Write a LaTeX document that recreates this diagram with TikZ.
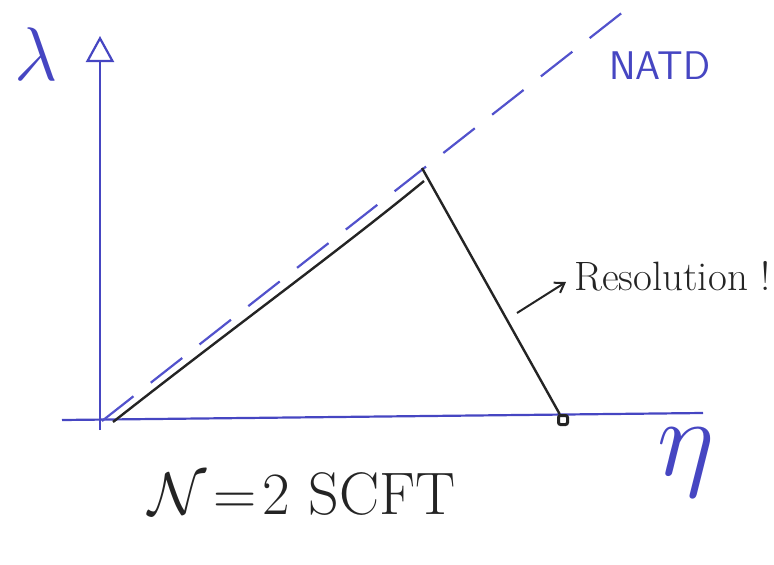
\RequirePackage{fix-cm}
\documentclass[tikz,border=0pt]{standalone}
\usepackage{tikz}
\usepackage{amsmath}
\usetikzlibrary{arrows.meta,positioning,calc}
\definecolor{skBlue}{HTML}{4646C2}
\definecolor{skDash}{HTML}{5252CC}
\definecolor{skInk}{HTML}{242424}
\tikzset{
  axisline/.style={line width=2.2pt, skBlue},
  natdline/.style={line width=2.2pt, skDash, dash pattern=on 40pt off 22pt},
  branch/.style={line width=2.4pt, skInk},
  pointer/.style={-{Straight Barb[length=9pt, width=12pt]}, line width=2pt, skInk},
  endmark/.style={draw=skInk, line width=3pt, rounded corners=2pt, rectangle, inner sep=0pt, minimum size=9pt, fill=white},
  axislabel/.style={text=skBlue, inner sep=0pt},
  tag/.style={inner sep=0pt}
}
\begin{document}
\begin{tikzpicture}[x=1pt,y=-1pt]
  \useasboundingbox (0,0) rectangle (774,565);
  % axes
  \coordinate (yBot) at (100,430);
  \coordinate (yTop) at (100,36);
  \coordinate (xL) at (62,420);
  \coordinate (xR) at (703,413);
  \draw[axisline, -{Triangle[open, length=26pt, width=28pt]}] (yBot) -- (yTop);
  \draw[axisline] (xL) -- (xR);
  \node[axislabel, font=\fontsize{76}{76}\selectfont] (lam) at (36,54) {$\lambda$};
  \node[axislabel, font=\fontsize{110}{110}\selectfont, anchor=north] (eta) at (686,428) {$\eta$};
  % NATD line
  \coordinate (dashA) at (102,421);
  \coordinate (dashB) at (628,8);
  \draw[natdline] (dashA) -- (dashB);
  \node[axislabel, font=\sffamily\fontsize{40}{40}\selectfont] (natd) at (660,66) {NATD};
  % resolved branch
  \coordinate (riseA) at (113,422);
  \coordinate (riseB) at (424,181);
  \coordinate (peak) at (422,168);
  \node[endmark] (res) at (563,420) {};
  \draw[branch] (riseA) .. controls (230,330) and (340,250) .. (riseB);
  \draw[branch] (peak) -- (res);
  % labels
  \coordinate (arrTail) at (517,313);
  \node[tag, anchor=west, font=\fontsize{41}{41}\selectfont, text=skInk] (reslbl) at (574,276) {Resolution !};
  \draw[pointer] (arrTail) -- ($(reslbl.west)+(-8,6)$);
  \node[tag, font=\fontsize{60}{60}\selectfont, text=skInk] (scft) at (302,494) {$\mathcal{N}\!=\!2$ SCFT};
\end{tikzpicture}
\end{document}
